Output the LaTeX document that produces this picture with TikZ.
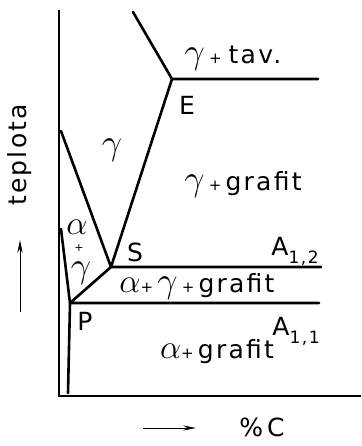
\documentclass[tikz,border=0pt]{standalone}
\usepackage{fontspec}
\setmainfont[LetterSpace=9]{DejaVu Sans}
\usetikzlibrary{arrows.meta, positioning}
\newcommand{\gam}{\scalebox{1.45}{$\gamma$}}
\newcommand{\alp}{\scalebox{1.35}{$\alpha$}}
\newcommand{\pl}{{\fontsize{15}{15}\selectfont+}}
\newcommand{\sub}[1]{\raisebox{-8pt}{\fontsize{17}{17}\selectfont #1}}

\begin{document}
\begin{tikzpicture}[
    x=1pt, y=-1pt,
    >={Stealth[length=4.5mm, width=1.8mm]},
    phase/.style={line width=2.6pt, line cap=round, line join=round},
    axis/.style={line width=1.7pt},
    lbl/.style={font=\fontsize{25}{28}\selectfont, inner sep=0pt},
]
    \useasboundingbox (0,0) rectangle (361,446);

    % Axes
    \coordinate (ytop) at (59,10);
    \coordinate (O) at (59,396);
    \coordinate (xend) at (361,396);
    \draw[axis] (ytop) -- (O) -- (xend);

    % Phase points
    \coordinate (E) at (172,79);
    \coordinate (S) at (111,267);
    \coordinate (P) at (70,303);
    \coordinate (liq) at (133,12);
    \coordinate (Eend) at (318,79);
    \coordinate (gtop) at (61,131);
    \coordinate (Send) at (321,267);
    \coordinate (Pend) at (319,303);
    \coordinate (atop) at (61,229);
    \coordinate (abot) at (68,393);

    % Phase lines
    \draw[phase] (liq) -- (E) -- (Eend);
    \draw[phase] (E) -- (S) -- (Send);
    \draw[phase] (gtop) -- (S) -- (P) -- (Pend);
    \draw[phase] (atop) -- (P) -- (abot);

    % Region labels
    \node[lbl] (gtav) at (233,58) {\gam\,\pl\;tav.};
    \node[lbl] (lE) at (187,105) {E};
    \node[lbl] (gam) at (112,150) {\gam};
    \node[lbl] (ggraf) at (243,185) {\gam\,\pl\,grafit};
    \node[lbl] (al) at (77,227) {\alp};
    \node[lbl, font=\fontsize{11}{11}\selectfont] (alpl) at (79,248) {+};
    \node[lbl] (alg) at (81,273) {\gam};
    \node[lbl] (lS) at (135,252) {S};
    \node[lbl] (A12) at (295,251) {A\sub{1,2}};
    \node[lbl] (agg) at (197,287) {\alp\pl\,\gam\,\pl\,grafit};
    \node[lbl] (lP) at (85,321) {P};
    \node[lbl] (A11) at (296,331) {A\sub{1,1}};
    \node[lbl] (agraf) at (217,352) {\alp\pl\,grafit};

    % Axis labels
    \node[lbl, rotate=90] (tep) at (20,155) {teplota};
    \coordinate (tlo) at (20,312);
    \coordinate (thi) at (20,240);
    \draw[->, line width=0.9pt] (tlo) -- (thi);
    \coordinate (clo) at (143,428);
    \coordinate (chi) at (196,428);
    \draw[->, line width=0.9pt] (clo) -- (chi);
    \node[lbl] (pc) at (262,427) {\%\,C};
\end{tikzpicture}
\end{document}
